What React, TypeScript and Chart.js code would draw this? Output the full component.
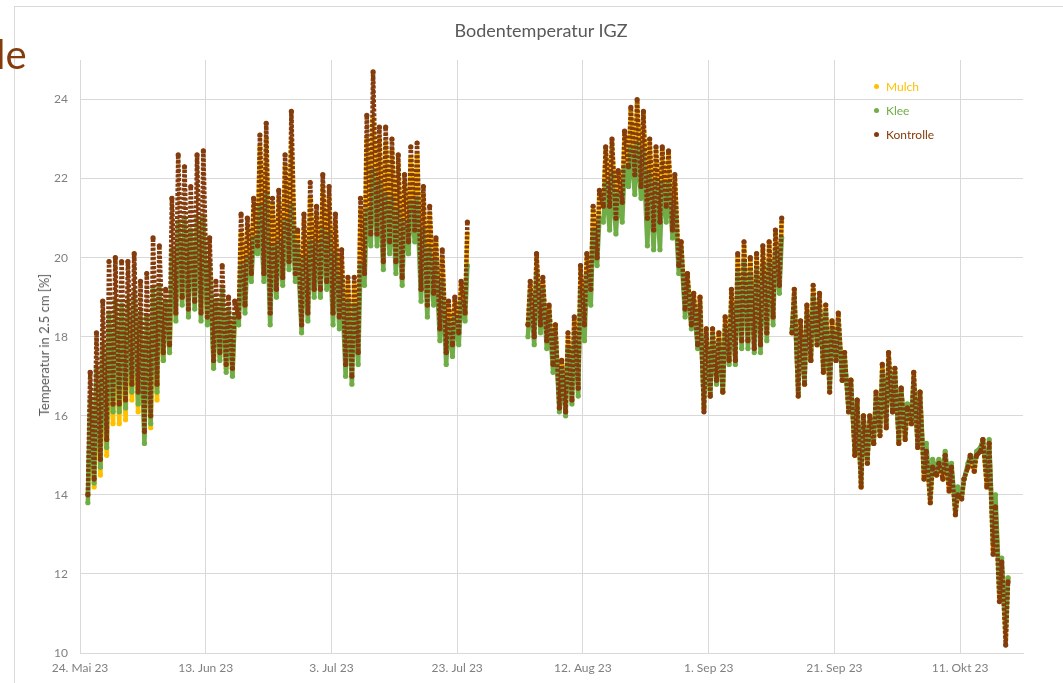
import React, { useEffect, useRef } from 'react';
import { Chart, registerables } from 'chart.js';

Chart.register(...registerables);

// Day index 0 = 24. Mai 23. One min and one max reading per day (null = no data).
const xTickDays = [0, 20, 40, 60, 80, 100, 120, 140];
const xTickLabels = ['24. Mai 23', '13. Jun 23', '3. Jul 23', '23. Jul 23', '12. Aug 23', '1. Sep 23', '21. Sep 23', '11. Okt 23'];
const yTicks = [10, 12, 14, 16, 18, 20, 22, 24];

const kontrolleMax = [
  null, 17.1, 18.1, 18.9, 19.9, 20.0, 19.9, 19.9, 20.1, 19.4,
  19.6, 20.5, 20.3, 19.2, 21.5, 22.6, 22.3, 21.8, 22.6, 22.7,
  20.5, 19.4, 19.8, 19.0, 18.9, 21.1, 21.0, 21.5, 23.1, 23.4,
  21.5, 21.7, 22.6, 23.7, 20.7, 21.1, 21.9, 21.3, 22.1, 21.8,
  21.1, 20.2, 19.5, 19.5, 21.5, 23.6, 24.7, 23.3, 23.3, 23.0,
  22.6, 22.1, 22.8, 22.9, 21.8, 21.3, 20.5, 20.2, 18.9, 19.0,
  19.4, 20.9, null, null, null, null, null, null, null, null,
  null, 19.4, 20.1, 19.5, 18.8, 18.3, 17.4, 18.1, 18.5, 19.8,
  20.1, 21.3, 21.7, 22.8, 23.0, 22.2, 23.2, 23.8, 24.0, 23.7,
  23.0, 22.8, 22.8, 22.7, 22.1, 20.4, 19.6, 19.1, 19.0, 18.2,
  18.2, 18.1, 18.5, 19.2, 20.1, 20.4, 20.0, 20.1, 20.3, 20.4,
  20.7, 21.0, null, 19.2, 18.4, 18.8, 19.3, 19.1, 18.8, 18.4,
  18.6, 17.6, 16.9, 16.4, 16.0, 16.0, 16.6, 17.3, 17.6, 17.2,
  16.7, 16.2, 17.1, 16.6, 15.1, 14.7, 14.8, 15.0, 14.7, 14.0,
  14.4, 15.0, 15.0, 15.4, 15.3, 13.7, 12.3, 11.8, null,
];
const kontrolleMin = [
  null, 14.0, 14.4, 14.9, 15.4, 16.3, 16.3, 16.4, 16.8, 16.6,
  15.6, 16.0, 16.8, 17.6, 17.8, 18.6, 19.0, 18.7, 18.9, 18.6,
  18.5, 17.4, 17.6, 17.3, 17.2, 18.5, 18.8, 19.6, 20.3, 19.6,
  18.6, 19.2, 19.5, 19.9, 19.6, 18.3, 18.6, 19.2, 19.2, 19.4,
  18.6, 18.5, 17.3, 17.0, 17.6, 19.6, 20.6, 20.6, 19.9, 20.4,
  19.9, 19.5, 20.4, 20.7, 19.2, 18.8, 19.1, 18.2, 17.6, 17.8,
  18.1, 18.6, null, null, null, null, null, null, null, null,
  null, 18.3, 18.0, 18.3, 17.9, 17.3, 16.2, 16.1, 16.4, 16.7,
  18.3, 19.2, 20.0, 21.3, 21.3, 21.0, 21.4, 22.3, 22.1, 21.8,
  21.0, 20.7, 20.9, 21.3, 20.7, 19.8, 18.7, 18.3, 17.8, 16.1,
  16.5, 16.9, 16.6, 17.4, 17.4, 17.9, 17.9, 17.7, 17.8, 18.1,
  18.5, 19.3, null, 18.1, 16.5, 16.8, 17.4, 17.8, 17.1, 16.6,
  17.4, 16.9, 16.1, 15.0, 14.2, 14.8, 15.3, 15.5, 15.7, 16.1,
  15.3, 15.4, 15.8, 15.2, 14.4, 13.8, 14.5, 14.4, 14.1, 13.5,
  13.9, 14.7, 14.6, 15.1, 14.2, 12.5, 11.3, 10.2, null,
];
const kleeMax = [
  null, 16.4, 17.2, 17.8, 18.6, 18.9, 18.8, 18.9, 19.1, 18.6,
  18.5, 19.2, 19.3, 18.9, 20.2, 20.9, 21.0, 20.7, 21.0, 21.0,
  19.9, 18.9, 19.2, 18.7, 18.5, 19.8, 20.0, 20.5, 21.3, 21.6,
  20.3, 20.4, 20.9, 21.3, 20.3, 20.0, 20.4, 20.4, 20.7, 20.6,
  20.1, 19.5, 18.9, 18.8, 19.8, 21.2, 22.2, 21.9, 21.6, 21.5,
  21.2, 20.9, 21.4, 21.5, 20.7, 20.2, 19.9, 19.4, 18.4, 18.5,
  18.9, 19.8, null, null, null, null, null, null, null, null,
  null, 19.1, 19.6, 19.2, 18.6, 18.1, 17.2, 17.7, 18.1, 19.2,
  19.6, 20.7, 21.0, 21.9, 22.1, 21.6, 22.3, 22.8, 22.9, 22.7,
  22.1, 21.9, 21.9, 21.9, 21.4, 20.2, 19.4, 18.9, 18.8, 18.0,
  18.0, 17.9, 18.2, 18.8, 19.6, 19.9, 19.6, 19.7, 19.8, 19.9,
  20.2, 20.5, null, 19.0, 18.2, 18.6, 19.0, 18.9, 18.6, 18.2,
  18.4, 17.5, 16.9, 16.4, 16.0, 15.9, 16.5, 17.1, 17.4, 17.1,
  16.7, 16.3, 16.9, 16.6, 15.3, 14.9, 14.9, 15.1, 14.8, 14.2,
  14.4, 15.0, 15.1, 15.4, 15.4, 14.0, 12.4, 11.9, null,
];
const kleeMin = [
  null, 13.8, 14.3, 14.7, 15.2, 16.1, 16.1, 16.2, 16.6, 16.3,
  15.3, 15.8, 16.6, 17.4, 17.6, 18.4, 18.8, 18.5, 18.7, 18.4,
  18.3, 17.2, 17.4, 17.1, 17.0, 18.3, 18.6, 19.4, 20.1, 19.4,
  18.3, 19.0, 19.3, 19.7, 19.4, 18.1, 18.4, 19.0, 19.0, 19.2,
  18.3, 18.2, 17.0, 16.8, 17.3, 19.3, 20.3, 20.3, 19.7, 20.1,
  19.6, 19.3, 20.1, 20.4, 18.9, 18.5, 18.8, 17.9, 17.3, 17.5,
  17.8, 18.4, null, null, null, null, null, null, null, null,
  null, 18.0, 17.8, 18.1, 17.7, 17.1, 16.1, 16.0, 16.3, 16.5,
  17.9, 18.8, 19.8, 20.9, 20.7, 20.6, 20.9, 21.8, 21.6, 21.5,
  20.3, 20.2, 20.2, 20.9, 20.5, 19.6, 18.5, 18.2, 17.7, 16.2,
  16.5, 16.8, 16.6, 17.3, 17.3, 17.7, 17.7, 17.6, 17.6, 17.9,
  18.3, 19.1, null, 18.2, 16.6, 16.9, 17.4, 17.8, 17.2, 16.7,
  17.4, 16.9, 16.2, 15.1, 14.3, 14.9, 15.3, 15.6, 15.8, 16.1,
  15.4, 15.5, 15.9, 15.3, 14.6, 14.0, 14.6, 14.6, 14.3, 13.6,
  14.0, 14.8, 14.8, 15.2, 14.5, 12.8, 11.6, 10.6, null,
];
const mulchMax = [
  null, 16.0, 16.8, 17.3, 18.0, 18.3, 18.2, 18.3, 18.6, 18.2,
  18.0, 18.8, 19.0, 18.9, 19.8, 20.4, 20.6, 20.3, 20.8, 20.7,
  19.9, 18.8, 19.0, 18.6, 18.4, 20.6, 20.8, 21.3, 22.8, 23.0,
  21.3, 21.5, 22.3, 23.0, 20.6, 20.9, 21.5, 21.1, 21.8, 21.5,
  20.9, 20.0, 19.4, 19.3, 21.2, 23.0, 23.5, 23.0, 22.9, 22.7,
  22.4, 21.9, 22.5, 22.6, 21.6, 21.1, 20.4, 20.0, 18.8, 18.9,
  19.3, 20.6, null, null, null, null, null, null, null, null,
  null, 19.3, 20.0, 19.4, 18.7, 18.3, 17.4, 18.0, 18.4, 19.7,
  20.0, 21.2, 21.6, 22.7, 22.9, 22.1, 23.1, 23.7, 23.9, 23.6,
  22.9, 22.7, 22.7, 22.6, 22.0, 20.4, 19.6, 19.1, 19.0, 18.2,
  18.2, 18.1, 18.5, 19.1, 20.0, 20.3, 20.0, 20.1, 20.2, 20.4,
  20.6, 20.9, null, 19.2, 18.4, 18.8, 19.2, 19.1, 18.8, 18.4,
  18.6, 17.6, 16.9, 16.4, 16.0, 16.0, 16.6, 17.3, 17.6, 17.2,
  16.7, 16.2, 17.1, 16.6, 15.1, 14.7, 14.8, 15.0, 14.7, 14.0,
  14.4, 15.0, 15.0, 15.4, 15.3, 13.8, 12.2, 11.9, null,
];
const mulchMin = [
  null, 14.0, 14.2, 14.5, 15.0, 15.8, 15.8, 15.9, 16.4, 16.1,
  15.5, 15.7, 16.4, 17.4, 17.6, 18.8, 19.0, 18.8, 19.0, 18.7,
  18.4, 17.3, 17.5, 17.2, 17.1, 18.5, 18.8, 19.6, 20.3, 19.7,
  18.6, 19.3, 19.6, 20.0, 19.6, 18.3, 18.7, 19.2, 19.3, 19.5,
  18.6, 18.5, 17.3, 17.1, 17.6, 19.7, 20.7, 20.7, 20.0, 20.4,
  19.9, 19.5, 20.4, 20.7, 19.2, 18.8, 19.1, 18.2, 17.6, 17.8,
  18.1, 18.6, null, null, null, null, null, null, null, null,
  null, 18.3, 18.0, 18.3, 17.9, 17.3, 16.2, 16.1, 16.4, 16.8,
  18.4, 19.3, 20.1, 21.3, 21.3, 21.0, 21.4, 22.3, 22.1, 21.8,
  21.0, 20.7, 20.9, 21.3, 20.7, 19.8, 18.7, 18.3, 17.8, 16.2,
  16.5, 16.9, 16.6, 17.4, 17.4, 17.9, 17.9, 17.7, 17.8, 18.1,
  18.5, 19.3, null, 18.1, 16.5, 16.8, 17.4, 17.8, 17.1, 16.6,
  17.4, 16.9, 16.1, 15.0, 14.2, 14.8, 15.3, 15.5, 15.7, 16.1,
  15.3, 15.4, 15.8, 15.2, 14.4, 13.8, 14.5, 14.4, 14.1, 13.5,
  13.9, 14.7, 14.6, 15.1, 14.2, 12.6, 11.4, 10.4, null,
];

const COLORS = { mulch: '#FFC000', klee: '#70AD47', kontrolle: '#843C0C' };
const FONT = 'Lato, "Open Sans", sans-serif';

// Night minimum early in the day, afternoon maximum later in the day.
function buildPoints(mins: (number | null)[], maxs: (number | null)[]) {
  const pts: { x: number; y: number | null }[] = [];
  for (let d = 0; d < mins.length; d++) {
    const lo = mins[d];
    const hi = maxs[d];
    if (lo == null || hi == null) {
      if (pts.length && pts[pts.length - 1].y !== null) pts.push({ x: d, y: null });
      continue;
    }
    pts.push({ x: d + 0.25, y: lo });
    pts.push({ x: d + 0.62, y: hi });
  }
  return pts;
}

function makeDataset(label: string, color: string, mins: (number | null)[], maxs: (number | null)[], dash: number[]) {
  return {
    label,
    data: buildPoints(mins, maxs),
    borderColor: color,
    backgroundColor: color,
    pointBackgroundColor: color,
    pointBorderWidth: 0,
    pointRadius: 2.6,
    borderWidth: 4.5,
    borderDash: dash,
    borderCapStyle: 'butt',
    borderJoinStyle: 'round',
    tension: 0,
    spanGaps: false,
    showLine: true,
  };
}

export default function App() {
  const canvasRef = useRef<HTMLCanvasElement | null>(null);

  useEffect(() => {
    if (!canvasRef.current) return;
    const tickColor = '#7f7f7f';
    const gridColor = '#d9d9d9';
    const chart = new Chart(canvasRef.current, {
      type: 'line',
      data: {
        datasets: [
          makeDataset('Kontrolle', COLORS.kontrolle, kontrolleMin, kontrolleMax, [3, 1.6]),
          makeDataset('Klee', COLORS.klee, kleeMin, kleeMax, []),
          makeDataset('Mulch', COLORS.mulch, mulchMin, mulchMax, []),
        ] as any,
      },
      options: {
        animation: false,
        responsive: false,
        maintainAspectRatio: false,
        devicePixelRatio: 1,
        layout: { padding: { left: 0, right: 40, top: 60, bottom: 0 } },
        plugins: {
          legend: { display: false },
          title: { display: false },
          tooltip: { enabled: false },
        },
        scales: {
          x: {
            type: 'linear',
            min: 0,
            max: 150,
            afterBuildTicks: (s: any) => {
              s.ticks = xTickDays.map((v) => ({ value: v }));
            },
            afterFit: (s: any) => {
              s.height = 30;
            },
            ticks: {
              autoSkip: false,
              maxRotation: 0,
              minRotation: 0,
              padding: 8,
              color: tickColor,
              font: { family: FONT, size: 12 },
              callback: (v: any) => {
                const i = xTickDays.indexOf(Number(v));
                return i >= 0 ? xTickLabels[i] : '';
              },
            },
            grid: { color: gridColor, drawTicks: false, lineWidth: 1 },
            border: { color: gridColor },
          },
          y: {
            type: 'linear',
            min: 10,
            max: 25,
            afterBuildTicks: (s: any) => {
              s.ticks = yTicks.map((v) => ({ value: v }));
            },
            afterFit: (s: any) => {
              s.width = 80;
            },
            ticks: {
              padding: 12,
              color: tickColor,
              font: { family: FONT, size: 12 },
            },
            grid: { color: gridColor, drawTicks: false, lineWidth: 1 },
            border: { color: gridColor },
          },
        },
      } as any,
    });
    return () => chart.destroy();
  }, []);

  const legendItems = [
    { label: 'Mulch', color: COLORS.mulch },
    { label: 'Klee', color: COLORS.klee },
    { label: 'Kontrolle', color: COLORS.kontrolle },
  ];

  return (
    <div style={{ position: 'absolute', left: 0, top: 0, width: 1063, height: 683, overflow: 'hidden', background: '#fff', fontFamily: FONT }}>
      <div style={{ position: 'absolute', left: 14, top: 6, right: 0, bottom: 0, borderTop: '1px solid #d9d9d9', borderLeft: '1px solid #d9d9d9' }} />
      <canvas ref={canvasRef} width={1063} height={683} style={{ position: 'absolute', left: 0, top: 0, width: 1063, height: 683 }} />
      <div style={{ position: 'absolute', left: 391, width: 300, top: 19, textAlign: 'center', fontSize: 18, color: '#595959', lineHeight: '22px' }}>
        Bodentemperatur IGZ
      </div>
      <div style={{ position: 'absolute', left: 44, top: 345, transform: 'translate(-50%, -50%) rotate(-90deg)', whiteSpace: 'nowrap', fontSize: 13, color: '#595959' }}>
        Temperatur in 2.5 cm [%]
      </div>
      <div style={{ position: 'absolute', left: -4, top: 30, fontSize: 40, lineHeight: '48px', color: '#843C0C' }}>le</div>
      {legendItems.map((it, i) => (
        <div key={it.label} style={{ position: 'absolute', left: 874, top: 78 + i * 24, height: 16, display: 'flex', alignItems: 'center', fontSize: 12, color: it.color }}>
          <span style={{ display: 'inline-block', width: 5, height: 5, borderRadius: '50%', background: it.color, marginRight: 7 }} />
          {it.label}
        </div>
      ))}
    </div>
  );
}
